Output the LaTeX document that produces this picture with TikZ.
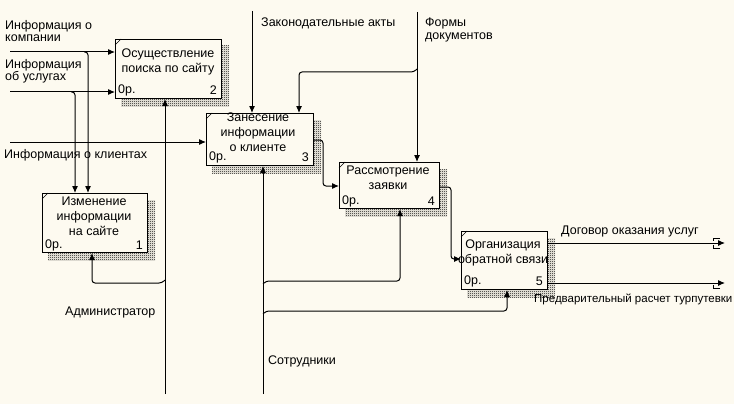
\documentclass[tikz,border=0pt]{standalone}
\usepackage{fontspec}
\setmainfont{Liberation Sans}
\usetikzlibrary{arrows.meta,patterns,calc,backgrounds}
\definecolor{bg}{RGB}{253,250,240}
\pgfdeclarepatternformonly{checker}{\pgfpointorigin}{\pgfpoint{2pt}{2pt}}{\pgfpoint{2pt}{2pt}}{%
  \pgfpathrectangle{\pgfpointorigin}{\pgfpoint{1pt}{1pt}}%
  \pgfpathrectangle{\pgfpoint{1pt}{1pt}}{\pgfpoint{1pt}{1pt}}%
  \pgfusepath{fill}}
\tikzset{
  fbox/.style={draw, fill=bg, line width=1pt, inner sep=0pt, anchor=north west},
  arr/.style={-{Latex[length=7pt,width=6pt]}, line width=1pt},
  ln/.style={line width=1pt},
  lbl/.style={font=\fontsize{12.5}{12.5}\selectfont, inner sep=0pt, align=left, anchor=west},
  btxt/.style={font=\fontsize{12.5}{15}\selectfont, inner sep=0pt, align=center},
  ctxt/.style={font=\fontsize{12.5}{15}\selectfont, inner sep=0pt},
  shadowfill/.style={pattern=checker, pattern color=black}
}
\newcommand{\boxshadow}[1]{\fill[shadowfill] ($(#1.north west)+(6,7)$) rectangle ($(#1.south east)+(7,7)$);}
\newcommand{\boxtick}[1]{\draw[line width=0.6pt] ($(#1.north west)+(0,6)$) -- ($(#1.north west)+(6,0)$);}
\begin{document}
\begin{tikzpicture}[x=1pt,y=-1pt]
\useasboundingbox (0,0) rectangle (734,404);

% boxes
\node[fbox, minimum width=105pt, minimum height=59pt] (b1) at (42,193) {};
\node[fbox, minimum width=106pt, minimum height=59pt] (b2) at (115,39) {};
\node[fbox, minimum width=107pt, minimum height=52pt] (b3) at (206,113) {};
\node[fbox, minimum width=100pt, minimum height=46pt] (b4) at (339,162) {};
\node[fbox, minimum width=86pt, minimum height=58pt] (b5) at (461,231) {};

\begin{scope}[on background layer]
  \fill[bg] (0,0) rectangle (734,404);
  \boxshadow{b1}\boxshadow{b2}\boxshadow{b3}\boxshadow{b4}\boxshadow{b5}
\end{scope}
\boxtick{b1}\boxtick{b2}\boxtick{b3}\boxtick{b4}\boxtick{b5}

% box texts
\node[btxt] (t1) at (94,216) {Изменение\\информации\\на сайте};
\node[ctxt, anchor=west] (p1) at (45,245) {0р.};
\node[ctxt, anchor=east] (n1) at (143,245) {1};
\node[btxt] (t2) at (168,61.5) {Осуществление\\поиска по сайту};
\node[ctxt, anchor=west] (p2) at (118,90) {0р.};
\node[ctxt, anchor=east] (n2) at (217,90) {2};
\node[btxt] (t3) at (258,131.7) {Занесение\\информации\\о клиенте};
\node[ctxt, anchor=west] (p3) at (209,157) {0р.};
\node[ctxt, anchor=east] (n3) at (309,157) {3};
\node[btxt] (t4) at (388,177.5) {Рассмотрение\\заявки};
\node[ctxt, anchor=west] (p4) at (342,201) {0р.};
\node[ctxt, anchor=east] (n4) at (435,201) {4};
\node[btxt] (t5) at (503,252.5) {Организация\\обратной связи};
\node[ctxt, anchor=west] (p5) at (464,281) {0р.};
\node[ctxt, anchor=east] (n5) at (543,281) {5};

% labels
\node[lbl] (lc) at (5,31) {Информация о\\компании};
\node[lbl] (ls) at (5,71.5) {Информация\\об услугах};
\node[lbl] (lk) at (4,155) {Информация о клиентах};
\node[lbl] (la) at (65,312) {Администратор};
\node[lbl] (lst) at (268,361) {Сотрудники};
\node[lbl] (ll) at (261,23) {Законодательные акты};
\node[lbl] (lf) at (425,30) {Формы\\документов};
\node[lbl] (ld) at (561,231) {Договор оказания услуг};
\node[lbl, font=\fontsize{11.5}{12}\selectfont] (lp) at (534,299) {Предварительный расчет турпутевки};

% coordinates
\coordinate (ic) at (10,52);
\coordinate (is) at (10,92);
\coordinate (ik) at (10,142);
\coordinate (xa) at (88,0);
\coordinate (xb) at (75,0);
\coordinate (adm) at (165,394);
\coordinate (admb) at (165,283);
\coordinate (xadm) at (92,0);
\coordinate (st) at (263,394);
\coordinate (stb1) at (263,281);
\coordinate (stb2) at (263,311);
\coordinate (x4) at (400,0);
\coordinate (x5) at (507,0);
\coordinate (law) at (252,11);
\coordinate (frm) at (417,12);
\coordinate (frmb) at (417,72);
\coordinate (x3) at (299,0);
\coordinate (o1) at (725,243);
\coordinate (o2) at (725,283);

% inputs
\draw[arr] (ic) -- (ic -| b2.west);
\draw[arr, rounded corners=3pt] ($(ic)+(74,0)$) -| (xa |- b1.north);
\draw[arr] (is) -- (is -| b2.west);
\draw[arr, rounded corners=3pt] ($(is)+(61,0)$) -| (xb |- b1.north);
\draw[arr] (ik) -- (ik -| b3.west);

% mechanisms
\draw[arr] (adm) -- (adm |- b2.south);
\draw[arr, rounded corners=3pt] ($(admb)+(0,-3)$) -- ($(admb)+(-3,0)$) -| (xadm |- b1.south);
\draw[arr] (st) -- (st |- b3.south);
\draw[arr, rounded corners=3pt] ($(stb1)+(0,3)$) -- ($(stb1)+(3,0)$) -| (x4 |- b4.south);
\draw[arr, rounded corners=3pt] ($(stb2)+(0,3)$) -- ($(stb2)+(3,0)$) -| (x5 |- b5.south);

% controls
\draw[arr] (law) -- (law |- b3.north);
\draw[arr] (frm) -- (frm |- b4.north);
\draw[arr, rounded corners=3pt] ($(frmb)+(0,-3)$) -- ($(frmb)+(-3,0)$) -| (x3 |- b3.north);

% flows between boxes
\coordinate (c34) at (313,140);
\coordinate (c34b) at (323,186);
\draw[arr, rounded corners=3pt] (c34) -| (c34b) -- (c34b -| b4.west);
\coordinate (c45) at (439,187);
\coordinate (c45b) at (451,259);
\draw[arr, rounded corners=3pt] (c45) -| (c45b) -- (c45b -| b5.west);

% outputs
\draw[arr] (b5.east |- o1) -- (o1);
\draw[arr] (b5.east |- o2) -- (o2);
\draw[ln] (720,238) -- (713,238) -- (713,241);
\draw[ln] (720,248) -- (713,248) -- (713,245);
\draw[ln] (720,288) -- (713,288) -- (713,285);
\end{tikzpicture}
\end{document}
